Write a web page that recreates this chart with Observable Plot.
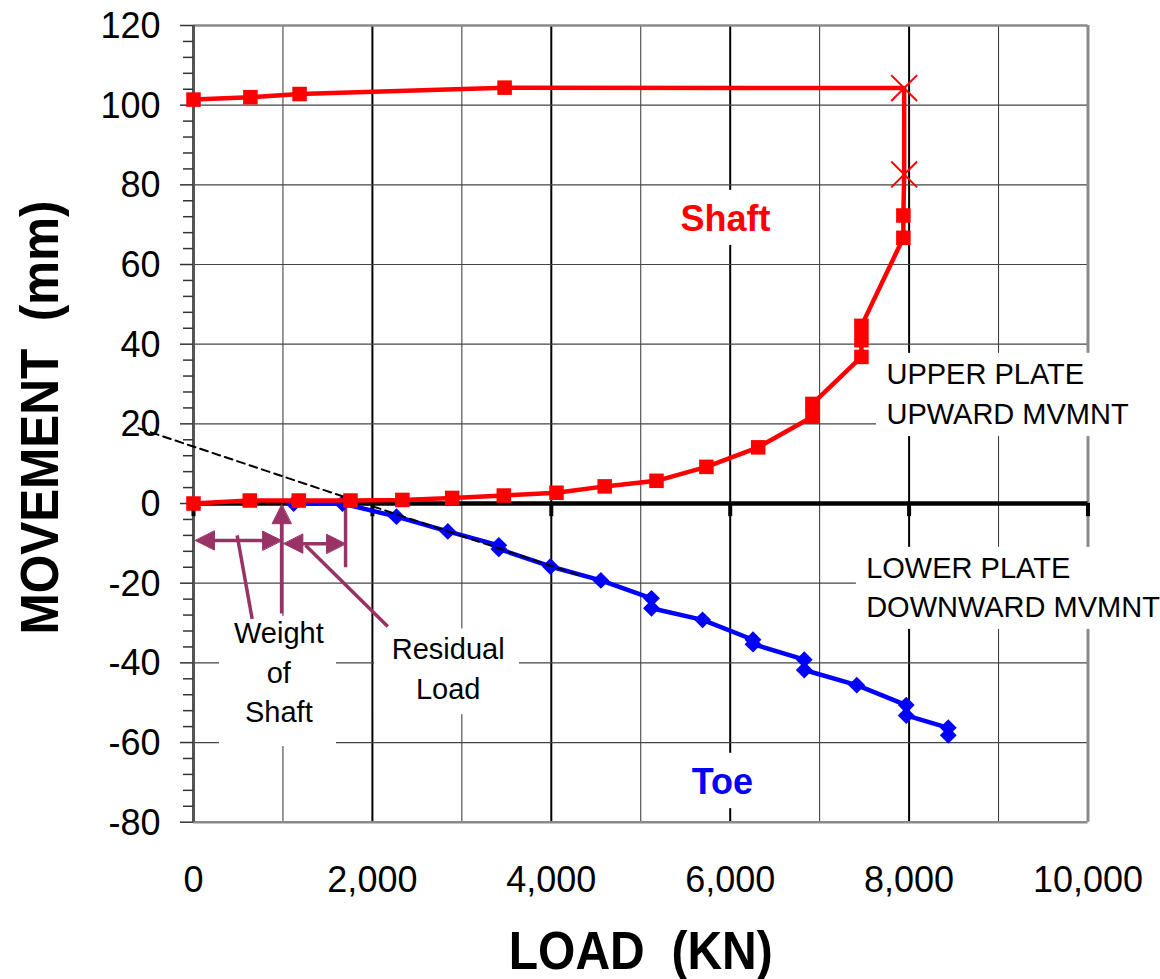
<!DOCTYPE html>
<html><head><meta charset="utf-8">
<script src="https://cdn.jsdelivr.net/npm/d3@7"></script>
<script src="https://cdn.jsdelivr.net/npm/@observablehq/plot@0.6"></script>
<style>body{margin:0;background:#fff} svg{display:block}</style>
</head><body><div id="chart"></div>
<script>
// ---- Shaft (upper plate, upward movement) ----
const shaftLoad = [0, 629, 1177, 1755, 2335, 2892, 3469, 4058, 4597, 5176, 5734, 6313, 6919, 6919, 7467, 7467, 7467, 7936, 7936, 7945, 7945, 3478, 1186, 636, 0];
const shaftMove = [0, 0.75, 0.75, 0.75, 0.9, 1.4, 2.0, 2.7, 4.3, 5.7, 9.2, 14.1, 21.8, 25.0, 36.8, 41.0, 44.6, 66.7, 72.3, 82.6, 104.3, 104.4, 102.8, 102.0, 101.4];
const shaftMarker = ["square","square","square","square","square","square","square","square","square","square","square","square","square","square","square","square","square","square","square","times","times","square","square","square","square"];
// ---- Toe (lower plate, downward movement) ----
const toeLoad = [1120, 1665, 2269, 2843, 3413, 3413, 3990, 4554, 5120, 5120, 5691, 6255, 6255, 6828, 6828, 7415, 7968, 7968, 8438, 8438];
const toeMove = [0, 0, -3.3, -7.0, -10.5, -11.4, -15.8, -19.3, -23.8, -26.3, -29.2, -34.2, -35.3, -39.2, -41.8, -45.6, -50.6, -53.2, -56.3, -58.2];
// ---- dashed extrapolation line ----
const dashLoad = [-615, 4300];
const dashMove = [18.9, -17.9];
// ---- ticks ----
const xTickValues = [0, 2000, 4000, 6000, 8000, 10000];
const xGridOdd = [1000, 3000, 5000, 7000, 9000];
const xGridEven = [2000, 4000, 6000, 8000];
const yTickValues = [-80, -60, -40, -20, 0, 20, 40, 60, 80, 100, 120];
const yGridValues = [-60, -40, -20, 20, 40, 60, 80, 100];
const yMinorValues = d3.range(-80, 121, 4).filter(v => v % 20 !== 0);
// ---- annotation arrows / leaders ----
const segX1 = [22, 985, 1010, 1700, 488, 1252];
const segY1 = [-9.3, -27.6, -10.1, 0, -8.0, -10.5];
const segX2 = [985, 985, 1700, 1700, 656, 2172];
const segY2 = [-9.3, -0.3, -10.1, -16, -29.0, -30.9];
const segHeadStart = [true, false, true, false, false, false];
const segHeadEnd = [true, true, true, false, false, false];
// ---- text annotations ----
const noteText = ["UPPER PLATE\nUPWARD MVMNT", "LOWER PLATE\nDOWNWARD MVMNT"];
const noteLoad = [7747, 7520];
const noteMove = [20.0, -28.5];
const calloutText = ["Weight\nof\nShaft", "Residual\nLoad"];
const calloutLoad = [954, 2847];
const calloutMove = [-54.9, -49.0];
const seriesText = ["Shaft", "Toe"];
const seriesLoad = [5947, 5913];
const seriesMove = [68.4, -72.9];
const seriesColor = ["#ff0000", "#0000ff"];
const xTitle = "LOAD  (KN)";
const yTitle = "MOVEMENT  (mm)";
// white label boxes (load / movement extents)
const boxX1 = [7635, 7411, 5250, 5250, 291, 2023];
const boxX2 = [10600, 10600, 6650, 6650, 1598, 3644];
const boxY1 = [16.8, -31.6, 64.8, -76.6, -61.0, -53.0];
const boxY2 = [37.7, -11.0, 78.6, -62.7, -28.4, -31.5];

const shaft = shaftLoad.map((x, i) => ({load: x, move: shaftMove[i], marker: shaftMarker[i]}));
const toe = toeLoad.map((x, i) => ({load: x, move: toeMove[i]}));
const dash = dashLoad.map((x, i) => ({load: x, move: dashMove[i]}));
const segs = segX1.map((x, i) => ({x1: x, y1: segY1[i], x2: segX2[i], y2: segY2[i], hs: segHeadStart[i], he: segHeadEnd[i]}));
const heads = [];
segs.forEach(s => {
  const horiz = s.y1 === s.y2;
  if (s.he) heads.push({x: s.x2, y: s.y2, rot: horiz ? (s.x2 > s.x1 ? 90 : -90) : (s.y2 > s.y1 ? 0 : 180)});
  if (s.hs) heads.push({x: s.x1, y: s.y1, rot: horiz ? (s.x1 > s.x2 ? 90 : -90) : (s.y1 > s.y2 ? 0 : 180)});
});
const boxes = boxX1.map((x, i) => ({x1: x, x2: boxX2[i], y1: boxY1[i], y2: boxY2[i]}));
const notes = noteText.map((t, i) => ({t, x: noteLoad[i], y: noteMove[i]}));
const callouts = calloutText.map((t, i) => ({t, x: calloutLoad[i], y: calloutMove[i]}));
const series = seriesText.map((t, i) => ({t, x: seriesLoad[i], y: seriesMove[i], c: seriesColor[i]}));

const purple = "#993366";
const triangleHead = {draw(context, l, r) { context.moveTo(0, -l); context.lineTo(-r, 0); context.lineTo(r, 0); context.closePath(); }};
const SANS = "'Liberation Sans', Arial, Helvetica, sans-serif";

const chart = Plot.plot({
  width: 1160, height: 979,
  marginLeft: 193, marginRight: 72.5, marginTop: 25, marginBottom: 157.3,
  x: {domain: [0, 10000], axis: null},
  y: {domain: [-80, 120], axis: null},
  style: {fontFamily: SANS, background: "#fff", overflow: "visible", whiteSpace: "pre"},
  marks: [
    Plot.ruleX(xGridOdd, {stroke: "#333", strokeWidth: 1}),
    Plot.ruleX(xGridEven, {stroke: "#000", strokeWidth: 2}),
    Plot.ruleY(yGridValues, {stroke: "#444", strokeWidth: 1.2}),
    Plot.ruleY([120, -80], {stroke: "#8a8a8a", strokeWidth: 2.5}),
    Plot.ruleX([10000], {stroke: "#8a8a8a", strokeWidth: 3}),
    Plot.rect(boxes, {x1: "x1", x2: "x2", y1: "y1", y2: "y2", fill: "#fff"}),
    Plot.ruleX([0], {stroke: "#555", strokeWidth: 3}),
    Plot.ruleY(yTickValues, {x1: -145, x2: 0, stroke: "#333", strokeWidth: 1.5}),
    Plot.ruleY(yMinorValues, {x1: -112, x2: 0, stroke: "#333", strokeWidth: 1.5}),
    Plot.text(yTickValues, {x: 0, y: d => d, text: d => String(d), textAnchor: "end", dx: -33, dy: 1, fontSize: 36, fill: "#000"}),
    Plot.text(xTickValues, {x: d => d, y: -80, text: d => d3.format(",")(d), lineAnchor: "bottom", dy: 69.3, fontSize: 36, fill: "#000"}),
    Plot.ruleY([0], {stroke: "#000", strokeWidth: 4.5}),
    Plot.ruleX(xTickValues, {y1: 0, y2: -3.3, stroke: "#000", strokeWidth: 4}),
    // arrows
    Plot.arrow(segs.filter(s => s.hs && s.he), {x1: "x1", y1: "y1", x2: "x2", y2: "y2", stroke: purple, strokeWidth: 3.5, headLength: 0, insetStart: 14, insetEnd: 14, strokeLinecap: "butt"}),
    Plot.arrow(segs.filter(s => !s.hs && s.he), {x1: "x1", y1: "y1", x2: "x2", y2: "y2", stroke: purple, strokeWidth: 3.5, headLength: 0, insetEnd: 14, strokeLinecap: "butt"}),
    Plot.arrow(segs.filter(s => !s.hs && !s.he), {x1: "x1", y1: "y1", x2: "x2", y2: "y2", stroke: purple, strokeWidth: 3.5, headLength: 0, strokeLinecap: "butt"}),
    Plot.vector(heads, {x: "x", y: "y", rotate: "rot", length: 19, r: 9.5, anchor: "end", shape: triangleHead, fill: purple, stroke: purple, strokeWidth: 1}),
    // toe
    Plot.line(toe, {x: "load", y: "move", stroke: "#0000ff", strokeWidth: 4.5}),
    Plot.dot(toe, {x: "load", y: "move", symbol: "diamond2", r: 7.6, fill: "#0000ff", stroke: "none"}),
    // dashed
    Plot.line(dash, {x: "load", y: "move", stroke: "#000", strokeWidth: 2, strokeDasharray: "8,5"}),
    // shaft
    Plot.line(shaft, {x: "load", y: "move", stroke: "#ff0000", strokeWidth: 4.5}),
    Plot.dot(shaft.filter(d => d.marker === "square"), {x: "load", y: "move", symbol: "square", r: 8.2, fill: "#ff0000", stroke: "none"}),
    Plot.dot(shaft.filter(d => d.marker === "times"), {x: "load", y: "move", symbol: "times", r: 11.8, stroke: "#ff0000", strokeWidth: 2, fill: "none"}),
    // texts
    Plot.text(notes, {x: "x", y: "y", text: "t", textAnchor: "start", lineAnchor: "bottom", lineHeight: 1.36, fontSize: 29, fill: "#000"}),
    Plot.text(callouts, {x: "x", y: "y", text: "t", textAnchor: "middle", lineAnchor: "bottom", lineHeight: 1.36, fontSize: 29, fill: "#000"}),
    Plot.text(series, {x: "x", y: "y", text: "t", fill: "c", lineAnchor: "bottom", fontSize: 36, fontWeight: "bold"}),
    // axis titles
    Plot.text([xTitle], {x: 5000, y: -80, lineAnchor: "bottom", dy: 146.3, fontWeight: "bold", fontSize: 54, fill: "#000"}),
    Plot.text([yTitle], {x: -1520, y: 21.6, lineAnchor: "bottom", rotate: -90, fontWeight: "bold", fontSize: 54, fill: "#000"})
  ]
});
// condense the bold axis titles to the reference's narrow lettering
d3.select(chart).selectAll("text").each(function() {
  const t = this.textContent;
  if (t === xTitle) { this.setAttribute("textLength", 264); this.setAttribute("lengthAdjust", "spacingAndGlyphs"); }
  if (t === yTitle) { this.setAttribute("textLength", 434); this.setAttribute("lengthAdjust", "spacingAndGlyphs"); }
});
document.getElementById("chart").appendChild(chart);
</script></body></html>
